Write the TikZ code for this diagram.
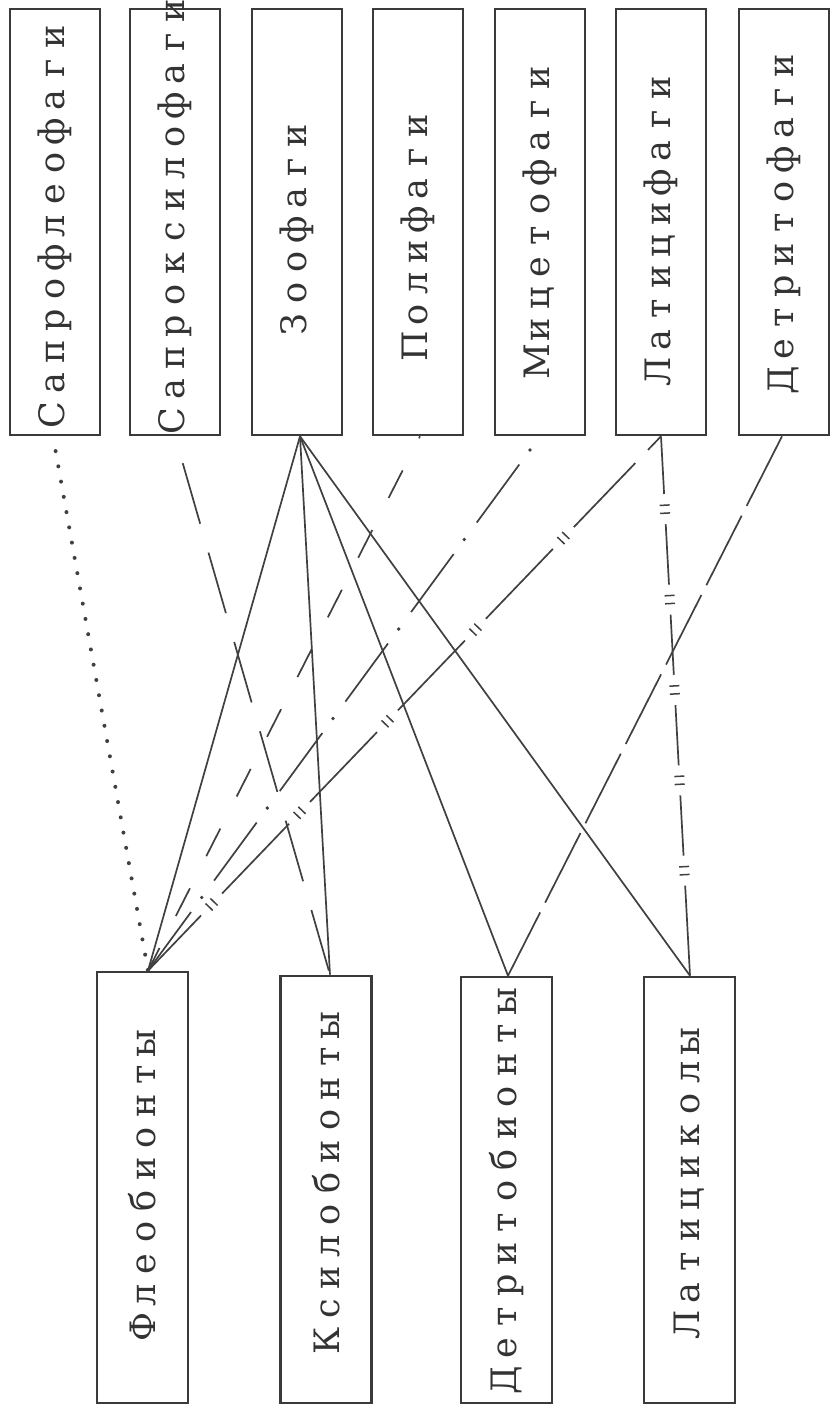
\documentclass[tikz,border=0pt]{standalone}
\usepackage{fontspec}
\newfontfamily\twfont{DejaVu Serif}
\usetikzlibrary{decorations.markings}
\definecolor{boxcol}{HTML}{3A3A3A}
\definecolor{txtcol}{HTML}{333333}
\definecolor{linecol}{HTML}{404040}
\makeatletter
\newcommand\lspaced[1]{\@tfor\lsp@c:=#1\do{\makebox[31.5pt]{\lsp@c}}}
\makeatother
\newcommand\eqmk{\fill[white] (-15pt,-4pt) rectangle (15pt,4pt);
  \draw[linecol,line width=1.5pt,solid] (-4pt,-5pt) -- (-4pt,5pt) (4pt,-5pt) -- (4pt,5pt);}
\newcommand\eqmks{\fill[white] (-15pt,-4pt) rectangle (15pt,4pt);
  \draw[linecol,line width=1.5pt,solid] (-3.5pt,-5pt) -- (-3.5pt,5pt) (3.5pt,-5pt) -- (3.5pt,5pt);}
\newcommand\gapmk{\fill[white] (-9pt,-4pt) rectangle (9pt,4pt);}
\begin{document}
\begin{tikzpicture}[x=1pt,y=-1pt,
  boxs/.style={draw=boxcol, line width=2.6pt, inner sep=0pt},
  topbox/.style={boxs, minimum width=90pt, minimum height=426pt},
  botbox/.style={boxs, minimum width=91pt},
  vlabel/.style={rotate=90, inner sep=0pt, text=txtcol, font=\twfont\fontsize{35}{35}\selectfont},
  conn/.style={draw=linecol, line width=1.7pt},
  dotline/.style={draw=linecol, line width=4pt, line cap=round, dash pattern=on 0pt off 15.5pt, dash phase=0.5pt},
  longdash/.style={conn, dash pattern=on 63pt off 30pt, dash phase=65pt},
  shortdash/.style={conn, dash pattern=on 31pt off 36pt, dash phase=28.8pt},
  detdash/.style={conn, dash pattern=on 78pt off 11pt},
  dashdotline/.style={conn, dash pattern=on 72pt off 39pt, dash phase=76pt,
    postaction={draw=linecol, line width=3.8pt, line cap=round, dash pattern=on 0pt off 111pt, dash phase=94pt}},
  eqv/.style={conn, postaction={decorate, decoration={markings,
    mark=between positions 73pt and 440pt step 90.5pt with {\eqmk}}}},
  eqs/.style={conn, postaction={decorate, decoration={markings,
    mark=at position 28pt with {\gapmk},
    mark=between positions 141pt and 660pt step 127pt with {\eqmks}}}}
]
\fill[white] (0,0) rectangle (834,1412);
\useasboundingbox (0,0) rectangle (834,1412);

% top boxes
\node[topbox] (saprofleo) at (55,222) {};
\node[topbox] (saproxylo) at (175,222) {};
\node[topbox] (zoo) at (297,222) {};
\node[topbox] (poly) at (418,222) {};
\node[topbox] (myceto) at (540,222) {};
\node[topbox] (latici) at (661,222) {};
\node[topbox] (detrito) at (784,222) {};

% bottom boxes
\node[botbox, minimum height=431pt] (fleo) at (142.5,1187.5) {};
\node[botbox, minimum height=427pt] (xylo) at (326,1189.5) {};
\node[botbox, minimum height=426pt] (detritob) at (506.5,1190) {};
\node[botbox, minimum height=426pt] (laticol) at (689.5,1190) {};

% labels
\node[vlabel] (saprofleo-l) at (55,226) {\lspaced{Сапрофлеофаги}};
\node[vlabel] (saproxylo-l) at (175,216) {\lspaced{Сапроксилофаги}};
\node[vlabel] (zoo-l) at (297,230) {\lspaced{Зоофаги}};
\node[vlabel] (poly-l) at (418,236) {\lspaced{Полифаги}};
\node[vlabel] (myceto-l) at (540,220) {\lspaced{Мицетофаги}};
\node[vlabel] (latici-l) at (661,230) {\lspaced{Латицифаги}};
\node[vlabel] (detrito-l) at (784,223) {\lspaced{Детритофаги}};
\node[vlabel] (fleo-l) at (142.5,1185) {\lspaced{Флеобионты}};
\node[vlabel] (xylo-l) at (326,1183) {\lspaced{Ксилобионты}};
\node[vlabel] (detritob-l) at (506.5,1191) {\lspaced{Детритобионты}};
\node[vlabel] (laticol-l) at (689.5,1183) {\lspaced{Латициколы}};

% ports
\coordinate (saprofleo-p) at ([xshift=-2pt]saprofleo.south);
\coordinate (saproxylo-p) at (saproxylo.south);
\coordinate (zoo-p) at ([xshift=3pt]zoo.south);
\coordinate (poly-p) at ([xshift=2pt]poly.south);
\coordinate (myceto-p) at (myceto.south);
\coordinate (latici-p) at (latici.south);
\coordinate (detrito-p) at ([xshift=-2pt]detrito.south);
\coordinate (fleo-p) at ([xshift=5.5pt]fleo.north);
\coordinate (xylo-p) at ([xshift=4pt]xylo.north);
\coordinate (detritob-p) at ([xshift=1.5pt]detritob.north);
\coordinate (laticol-p) at ([xshift=0.5pt]laticol.north);

% connectors with "=" marks
\draw[eqv] (latici-p) -- (laticol-p);
\draw[eqs] (latici-p) -- (fleo-p);

% other connectors
\draw[dotline] (saprofleo-p) -- (fleo-p);
\draw[longdash] (saproxylo-p) -- (xylo-p);
\draw[shortdash] (poly-p) -- (fleo-p);
\draw[dashdotline] (myceto-p) -- (fleo-p);
\draw[detdash] (detrito-p) -- (detritob-p);
\draw[conn] (zoo-p) -- (fleo-p);
\draw[conn] (zoo-p) -- (xylo-p);
\draw[conn] (zoo-p) -- (detritob-p);
\draw[conn] (zoo-p) -- (laticol-p);
\end{tikzpicture}
\end{document}
